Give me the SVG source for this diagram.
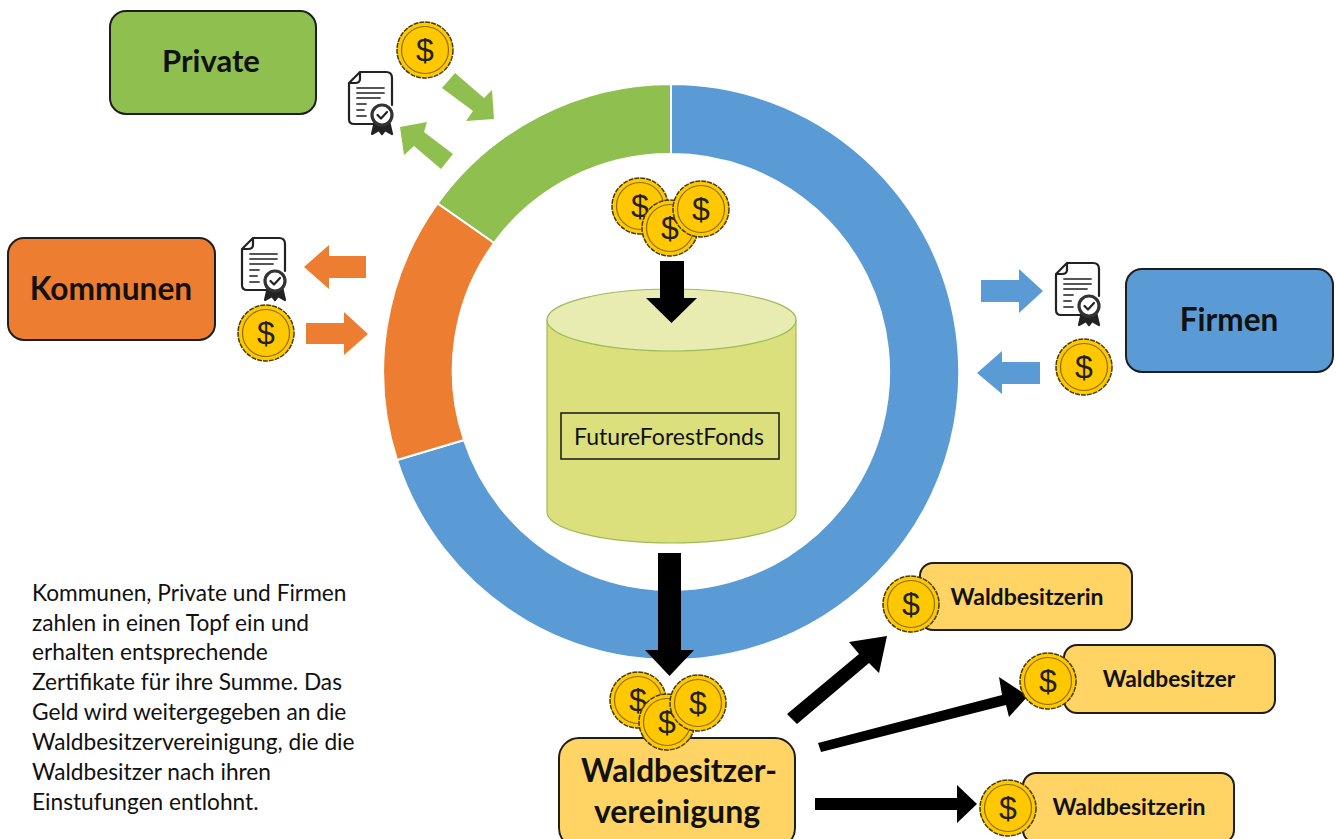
<svg xmlns="http://www.w3.org/2000/svg" xmlns:xlink="http://www.w3.org/1999/xlink" width="1336" height="839" viewBox="0 0 1336 839">
<style>
text{font-family:Lato,"Open Sans","Liberation Sans",sans-serif;fill:#111}
.b{font-weight:700;text-anchor:middle}
.box{stroke:#1e1e1e;stroke-width:2}
.g{fill:#8FC04F}.o{fill:#ED7D31}.bl{fill:#5B9BD5}.k{fill:#000}
.y{fill:#FFD364}
.p{font-size:22.7px}
</style>
<defs>
<g id="coin">
<circle r="28" fill="#FFC800" stroke="#4a3c00" stroke-width="1.5" stroke-dasharray="5 1"/>
<circle r="23.5" fill="none" stroke="#8a6d00" stroke-width="1.2"/>
<text y="11" text-anchor="middle" style="font-family:'Liberation Sans',sans-serif;font-size:32px;fill:#222">$</text>
</g>
<g id="cert" fill="none" stroke="#222" stroke-width="2.2" stroke-linecap="round" stroke-linejoin="round">
<path d="M12 1H38Q44 1 44 7V34M30 53H6Q1 53 1 48V12L12 1V8Q12 12 7 12H1"/>
<path d="M9 17H36M9 22H36M9 27H32M9 33H18M9 39H16M9 45H18" stroke-width="1.8" stroke="#555"/>
<path d="M27 50L24 63L31 59L34 63L37 59L44 63L41 50" fill="#222" stroke="#222"/>
<circle cx="34" cy="44" r="10" fill="#fff" stroke="#333" stroke-width="3.2"/>
<path d="M29.500 44L33 47.500L39 41" stroke-width="2.2"/>
</g>
</defs>
<rect width="1336" height="839" fill="#fff"/>
<g id="ring" stroke="#fff" stroke-width="2">
<path class="bl" d="M671 84A288 288 0 1 1 397 460L464 440A218 218 0 1 0 671 154Z"/>
<path class="g" d="M671 84A288 288 0 0 0 437.500 203.500L494 243A218 218 0 0 1 671 154Z"/>
<path class="o" d="M437.500 203.500A288 288 0 0 0 397 460L464 440A218 218 0 0 1 494 243Z"/>
</g>
<g id="fonds">
<path d="M547 320V512A124.500 31 0 0 0 796 512V320Z" fill="#DBDF7C" stroke="#9DBB5A" stroke-width="1.2"/>
<ellipse cx="671.500" cy="320" rx="124.500" ry="31" fill="#E9ECB0" stroke="#9DBB5A" stroke-width="1.2"/>
<rect x="561" y="413" width="218" height="46" fill="none" stroke="#222" stroke-width="1.6"/>
<text x="669" y="444.500" text-anchor="middle" font-size="23">FutureForestFonds</text>
</g>
<g id="connectors">
<path class="k" d="M660 261H684V298H697L671.500 323L646 298H660Z"/>
<path class="k" d="M658 553H681V650H694L669.500 676L645 650H658Z"/>
<path class="k" d="M787 714L859 654L849 642L887 636L879 673L869 663L797 724Z"/>
<path class="k" d="M818 743L1002 695L999 677L1028 696L1009 717L1006 705L821 752Z"/>
<path class="k" d="M815 798H957V785L977 804L957 823V810H815Z"/>
<path class="g" d="M442 88L455 73L484 98L492 90L494 119L466 121L473 111Z"/>
<path class="g" d="M453 154L441 169L414 146L404 155L400 127L427 122L424 132Z"/>
<path class="o" d="M366 256V278H329V289L304 267L329 245V256Z"/>
<path class="o" d="M306 323H344V312L368 334L344 355V344H306Z"/>
<path class="bl" d="M981 280H1019V269L1043 291L1019 313V302H981Z"/>
<path class="bl" d="M1040 362V384H1002V394L977 373L1002 351V362Z"/>
</g>
<g id="private"><rect class="box g" x="110" y="11" width="206" height="103" rx="16"/><text class="b" x="211" y="72" font-size="31">Private</text></g>
<g id="kommunen"><rect class="box o" x="8" y="238" width="207" height="102" rx="16"/><text class="b" x="111" y="300" font-size="31.700">Kommunen</text></g>
<g id="firmen"><rect class="box bl" x="1126" y="269" width="207" height="103" rx="16"/><text class="b" x="1229" y="331" font-size="31.500">Firmen</text></g>
<g id="coins-private"><use href="#coin" x="425" y="50"/><use href="#cert" x="348" y="71"/></g>
<g id="coins-kommunen"><use href="#coin" x="266" y="333"/><use href="#cert" x="241" y="237"/></g>
<g id="coins-firmen"><use href="#coin" x="1084" y="367"/><use href="#cert" x="1055" y="262"/></g>
<g id="coins-fonds"><use href="#coin" x="640" y="206"/><use href="#coin" x="670" y="228"/><use href="#coin" x="701" y="209"/></g>
<g id="waldbesitzervereinigung"><rect class="box y" x="559" y="738" width="236" height="110" rx="20"/><text class="b" x="679" y="782" font-size="31.600">Waldbesitzer-</text><text class="b" x="677" y="823" font-size="32">vereinigung</text></g>
<g id="coins-verein"><use href="#coin" x="638" y="700"/><use href="#coin" x="667" y="722"/><use href="#coin" x="698" y="703"/></g>
<g id="w1"><rect class="box y" x="920" y="563" width="212" height="67" rx="13"/><text class="b" x="1027" y="605" font-size="23">Waldbesitzerin</text><use href="#coin" x="911" y="604"/></g>
<g id="w2"><rect class="box y" x="1064" y="645" width="211" height="68" rx="13"/><text class="b" x="1169" y="687" font-size="22.700">Waldbesitzer</text><use href="#coin" x="1048" y="681"/></g>
<g id="w3"><rect class="box y" x="1023" y="773" width="211" height="70" rx="13"/><text class="b" x="1129" y="815" font-size="23">Waldbesitzerin</text><use href="#coin" x="1008" y="808"/></g>
<g id="beschreibung" class="p">
<text x="32" y="601">Kommunen, Private und Firmen</text>
<text x="32" y="631">zahlen in einen Topf ein und</text>
<text x="32" y="660">erhalten entsprechende</text>
<text x="32" y="690">Zertifikate für ihre Summe.  Das</text>
<text x="32" y="720">Geld wird weitergegeben an die</text>
<text x="32" y="750">Waldbesitzervereinigung, die die</text>
<text x="32" y="780">Waldbesitzer nach ihren</text>
<text x="32" y="810">Einstufungen entlohnt.</text>
</g>
</svg>
